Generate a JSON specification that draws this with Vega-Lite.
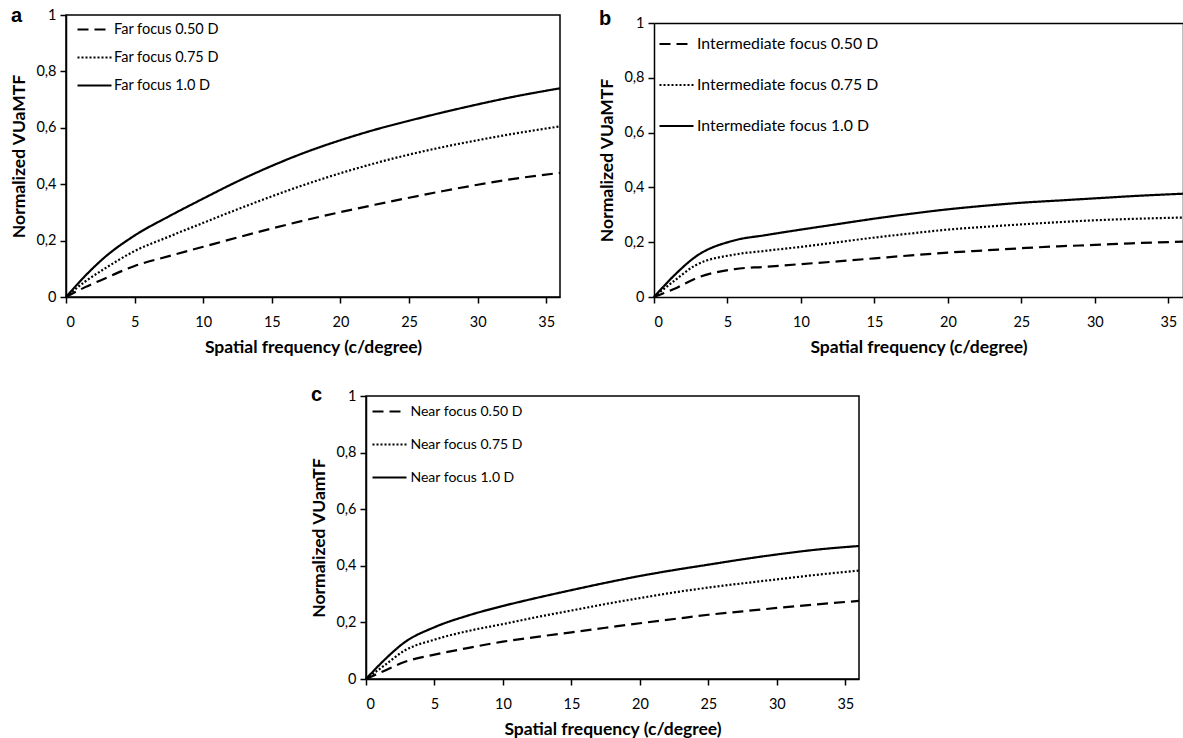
{
  "$schema": "https://vega.github.io/schema/vega-lite/v6.json",
  "padding": {"left": 10, "top": 5, "right": 0, "bottom": 0},
  "autosize": {"type": "pad"},
  "background": "white",
  "config": {
    "view": {"stroke": "black", "strokeWidth": 1.5},
    "axis": {"grid": false, "domainColor": "black", "domainWidth": 1.5, "tickColor": "black", "tickWidth": 1.5, "tickSize": 6, "labelColor": "black", "titleColor": "black", "labelFont": "Lato", "labelFontSize": 14.5, "titleFont": "Lato", "titleFontSize": 17.5, "titleFontWeight": "bold"},
    "axisY": {"labelPadding": 4, "titlePadding": 7},
    "axisX": {"labelPadding": 12, "titlePadding": 10},
    "legend": {"labelFont": "Lato", "labelFontSize": 14.5, "labelColor": "black", "symbolType": "stroke", "symbolSize": 1156, "symbolStrokeWidth": 2.2, "symbolStrokeColor": "black", "labelOffset": 1, "padding": 0, "labelLimit": 400},
    "title": {"font": "Liberation Sans", "fontSize": 20, "fontWeight": "bold", "anchor": "start", "frame": "bounds", "color": "black"},
    "line": {"color": "black", "strokeWidth": 2.2, "interpolate": "monotone"}
  },
  "datasets": {
    "a": [
      {"f": 0, "s": "1.0 D", "v": 0}, {"f": 1.4, "s": "1.0 D", "v": 0.075}, {"f": 2.8, "s": "1.0 D", "v": 0.14}, {"f": 5, "s": "1.0 D", "v": 0.218}, {"f": 7.5, "s": "1.0 D", "v": 0.286}, {"f": 10, "s": "1.0 D", "v": 0.349}, {"f": 12.5, "s": "1.0 D", "v": 0.41}, {"f": 15, "s": "1.0 D", "v": 0.465}, {"f": 17.5, "s": "1.0 D", "v": 0.514}, {"f": 20, "s": "1.0 D", "v": 0.556}, {"f": 22.5, "s": "1.0 D", "v": 0.593}, {"f": 25, "s": "1.0 D", "v": 0.625}, {"f": 27.5, "s": "1.0 D", "v": 0.655}, {"f": 30, "s": "1.0 D", "v": 0.683}, {"f": 32.5, "s": "1.0 D", "v": 0.709}, {"f": 36, "s": "1.0 D", "v": 0.74},
      {"f": 0, "s": "0.75 D", "v": 0}, {"f": 1.4, "s": "0.75 D", "v": 0.055}, {"f": 2.8, "s": "0.75 D", "v": 0.1}, {"f": 5, "s": "0.75 D", "v": 0.163}, {"f": 7.5, "s": "0.75 D", "v": 0.214}, {"f": 10, "s": "0.75 D", "v": 0.263}, {"f": 12.5, "s": "0.75 D", "v": 0.311}, {"f": 15, "s": "0.75 D", "v": 0.357}, {"f": 17.5, "s": "0.75 D", "v": 0.4}, {"f": 20, "s": "0.75 D", "v": 0.439}, {"f": 22.5, "s": "0.75 D", "v": 0.474}, {"f": 25, "s": "0.75 D", "v": 0.505}, {"f": 27.5, "s": "0.75 D", "v": 0.532}, {"f": 30, "s": "0.75 D", "v": 0.556}, {"f": 32.5, "s": "0.75 D", "v": 0.578}, {"f": 36, "s": "0.75 D", "v": 0.605},
      {"f": 0, "s": "0.50 D", "v": 0}, {"f": 1.4, "s": "0.50 D", "v": 0.035}, {"f": 2.8, "s": "0.50 D", "v": 0.065}, {"f": 5, "s": "0.50 D", "v": 0.11}, {"f": 7.5, "s": "0.50 D", "v": 0.145}, {"f": 10, "s": "0.50 D", "v": 0.178}, {"f": 12.5, "s": "0.50 D", "v": 0.211}, {"f": 15, "s": "0.50 D", "v": 0.243}, {"f": 17.5, "s": "0.50 D", "v": 0.273}, {"f": 20, "s": "0.50 D", "v": 0.301}, {"f": 22.5, "s": "0.50 D", "v": 0.327}, {"f": 25, "s": "0.50 D", "v": 0.352}, {"f": 27.5, "s": "0.50 D", "v": 0.376}, {"f": 30, "s": "0.50 D", "v": 0.398}, {"f": 32.5, "s": "0.50 D", "v": 0.418}, {"f": 36, "s": "0.50 D", "v": 0.44}
    ],
    "b": [
      {"f": 0, "s": "1.0 D", "v": 0}, {"f": 1.4, "s": "1.0 D", "v": 0.08}, {"f": 2.8, "s": "1.0 D", "v": 0.146}, {"f": 5.5, "s": "1.0 D", "v": 0.207}, {"f": 7.5, "s": "1.0 D", "v": 0.225}, {"f": 10, "s": "1.0 D", "v": 0.246}, {"f": 12.5, "s": "1.0 D", "v": 0.266}, {"f": 15, "s": "1.0 D", "v": 0.286}, {"f": 17.5, "s": "1.0 D", "v": 0.304}, {"f": 20, "s": "1.0 D", "v": 0.32}, {"f": 22.5, "s": "1.0 D", "v": 0.333}, {"f": 25, "s": "1.0 D", "v": 0.344}, {"f": 27.5, "s": "1.0 D", "v": 0.352}, {"f": 30, "s": "1.0 D", "v": 0.36}, {"f": 32.5, "s": "1.0 D", "v": 0.368}, {"f": 36, "s": "1.0 D", "v": 0.377},
      {"f": 0, "s": "0.75 D", "v": 0}, {"f": 1.4, "s": "0.75 D", "v": 0.06}, {"f": 2.8, "s": "0.75 D", "v": 0.115}, {"f": 5.5, "s": "0.75 D", "v": 0.155}, {"f": 7.5, "s": "0.75 D", "v": 0.168}, {"f": 10, "s": "0.75 D", "v": 0.183}, {"f": 12.5, "s": "0.75 D", "v": 0.2}, {"f": 15, "s": "0.75 D", "v": 0.217}, {"f": 17.5, "s": "0.75 D", "v": 0.232}, {"f": 20, "s": "0.75 D", "v": 0.246}, {"f": 22.5, "s": "0.75 D", "v": 0.256}, {"f": 25, "s": "0.75 D", "v": 0.265}, {"f": 27.5, "s": "0.75 D", "v": 0.273}, {"f": 30, "s": "0.75 D", "v": 0.28}, {"f": 32.5, "s": "0.75 D", "v": 0.285}, {"f": 36, "s": "0.75 D", "v": 0.29},
      {"f": 0, "s": "0.50 D", "v": 0}, {"f": 1.4, "s": "0.50 D", "v": 0.03}, {"f": 2.8, "s": "0.50 D", "v": 0.067}, {"f": 5.5, "s": "0.50 D", "v": 0.102}, {"f": 7.5, "s": "0.50 D", "v": 0.11}, {"f": 10, "s": "0.50 D", "v": 0.12}, {"f": 12.5, "s": "0.50 D", "v": 0.13}, {"f": 15, "s": "0.50 D", "v": 0.141}, {"f": 17.5, "s": "0.50 D", "v": 0.152}, {"f": 20, "s": "0.50 D", "v": 0.162}, {"f": 22.5, "s": "0.50 D", "v": 0.17}, {"f": 25, "s": "0.50 D", "v": 0.178}, {"f": 27.5, "s": "0.50 D", "v": 0.185}, {"f": 30, "s": "0.50 D", "v": 0.19}, {"f": 32.5, "s": "0.50 D", "v": 0.196}, {"f": 36, "s": "0.50 D", "v": 0.202}
    ],
    "c": [
      {"f": 0, "s": "1.0 D", "v": 0}, {"f": 1.4, "s": "1.0 D", "v": 0.07}, {"f": 2.8, "s": "1.0 D", "v": 0.129}, {"f": 5, "s": "1.0 D", "v": 0.183}, {"f": 7.5, "s": "1.0 D", "v": 0.225}, {"f": 10, "s": "1.0 D", "v": 0.258}, {"f": 12.5, "s": "1.0 D", "v": 0.287}, {"f": 15, "s": "1.0 D", "v": 0.314}, {"f": 17.5, "s": "1.0 D", "v": 0.34}, {"f": 20, "s": "1.0 D", "v": 0.364}, {"f": 22.5, "s": "1.0 D", "v": 0.385}, {"f": 25, "s": "1.0 D", "v": 0.404}, {"f": 27.5, "s": "1.0 D", "v": 0.423}, {"f": 30, "s": "1.0 D", "v": 0.44}, {"f": 32.5, "s": "1.0 D", "v": 0.455}, {"f": 36, "s": "1.0 D", "v": 0.47},
      {"f": 0, "s": "0.75 D", "v": 0}, {"f": 1.4, "s": "0.75 D", "v": 0.05}, {"f": 2.8, "s": "0.75 D", "v": 0.1}, {"f": 5, "s": "0.75 D", "v": 0.139}, {"f": 7.5, "s": "0.75 D", "v": 0.17}, {"f": 10, "s": "0.75 D", "v": 0.194}, {"f": 12.5, "s": "0.75 D", "v": 0.219}, {"f": 15, "s": "0.75 D", "v": 0.242}, {"f": 17.5, "s": "0.75 D", "v": 0.265}, {"f": 20, "s": "0.75 D", "v": 0.286}, {"f": 22.5, "s": "0.75 D", "v": 0.306}, {"f": 25, "s": "0.75 D", "v": 0.323}, {"f": 27.5, "s": "0.75 D", "v": 0.338}, {"f": 30, "s": "0.75 D", "v": 0.352}, {"f": 32.5, "s": "0.75 D", "v": 0.366}, {"f": 36, "s": "0.75 D", "v": 0.383},
      {"f": 0, "s": "0.50 D", "v": 0}, {"f": 1.4, "s": "0.50 D", "v": 0.03}, {"f": 2.8, "s": "0.50 D", "v": 0.06}, {"f": 5, "s": "0.50 D", "v": 0.086}, {"f": 7.5, "s": "0.50 D", "v": 0.11}, {"f": 10, "s": "0.50 D", "v": 0.132}, {"f": 12.5, "s": "0.50 D", "v": 0.149}, {"f": 15, "s": "0.50 D", "v": 0.165}, {"f": 17.5, "s": "0.50 D", "v": 0.181}, {"f": 20, "s": "0.50 D", "v": 0.197}, {"f": 22.5, "s": "0.50 D", "v": 0.212}, {"f": 25, "s": "0.50 D", "v": 0.227}, {"f": 27.5, "s": "0.50 D", "v": 0.239}, {"f": 30, "s": "0.50 D", "v": 0.251}, {"f": 32.5, "s": "0.50 D", "v": 0.262}, {"f": 36, "s": "0.50 D", "v": 0.276}
    ],
    "none": []
  },
  "spacing": 27,
  "resolve": {"scale": {"x": "independent", "y": "independent", "strokeDash": "independent"}, "legend": {"strokeDash": "independent"}},
  "vconcat": [
    {
      "spacing": 32,
      "resolve": {"scale": {"x": "independent", "y": "independent", "strokeDash": "independent"}, "legend": {"strokeDash": "independent"}},
      "hconcat": [
        {
          "width": 494, "height": 282,
          "data": {"name": "a"},
          "title": {"text": "a", "offset": -19},
          "mark": {"type": "line"},
          "encoding": {
            "x": {"field": "f", "type": "quantitative", "scale": {"domain": [0, 36], "nice": false}, "axis": {"values": [0, 5, 10, 15, 20, 25, 30, 35], "title": "Spatial frequency (c/degree)"}},
            "y": {"field": "v", "type": "quantitative", "scale": {"domain": [0, 1], "nice": false}, "axis": {"values": [0, 0.2, 0.4, 0.6, 0.8, 1], "title": "Normalized VUaMTF", "labelExpr": "replace(toString(datum.value), '.', ',')"}},
            "strokeDash": {"field": "s", "type": "nominal", "scale": {"domain": ["0.50 D", "0.75 D", "1.0 D"], "range": [[11, 6], [2, 2], [1, 0]]}, "legend": {"title": null, "orient": "none", "legendX": 10, "legendY": -4, "rowPadding": 3, "labelExpr": "'Far focus ' + datum.label"}}
          }
        },
        {
          "width": 529, "height": 282,
          "data": {"name": "b"},
          "title": {"text": "b", "offset": -14},
          "view": {"stroke": null},
          "resolve": {"axis": {"x": "independent", "y": "independent"}},
          "layer": [
            {
              "mark": {"type": "line"},
              "encoding": {
                "x": {"field": "f", "type": "quantitative", "scale": {"domain": [0, 36], "nice": false}, "axis": {"values": [0, 5, 10, 15, 20, 25, 30, 35], "title": "Spatial frequency (c/degree)"}},
                "y": {"field": "v", "type": "quantitative", "scale": {"domain": [0, 1], "nice": false, "range": [282, 8]}, "axis": {"values": [0, 0.2, 0.4, 0.6, 0.8, 1], "title": "Normalized VUaMTF", "labelExpr": "replace(toString(datum.value), '.', ',')"}},
                "strokeDash": {"field": "s", "type": "nominal", "scale": {"domain": ["0.50 D", "0.75 D", "1.0 D"], "range": [[11, 6], [2, 2], [1, 0]]}, "legend": {"title": null, "orient": "none", "legendX": 4, "legendY": 10.5, "rowPadding": 14, "labelFontSize": 15.8, "labelOffset": 2, "labelExpr": "'Intermediate focus ' + datum.label"}}
              }
            },
            {
              "mark": {"type": "line", "strokeOpacity": 0},
              "encoding": {
                "x": {"field": "f", "type": "quantitative", "axis": {"orient": "top", "labels": false, "ticks": false, "title": null, "offset": -8}},
                "y": {"field": "v", "type": "quantitative", "axis": {"orient": "right", "labels": false, "ticks": false, "title": null}}
              }
            }
          ]
        }
      ]
    },
    {
      "spacing": 0,
      "resolve": {"scale": {"x": "independent", "y": "independent", "strokeDash": "independent"}, "legend": {"strokeDash": "independent"}},
      "hconcat": [
        {
          "width": 244, "height": 1,
          "data": {"name": "none"},
          "view": {"stroke": null},
          "mark": {"type": "point", "opacity": 0},
          "encoding": {}
        },
        {
          "width": 493, "height": 283,
          "data": {"name": "c"},
          "title": {"text": "c", "offset": -17},
          "mark": {"type": "line"},
          "encoding": {
            "x": {"field": "f", "type": "quantitative", "scale": {"domain": [0, 36], "nice": false}, "axis": {"values": [0, 5, 10, 15, 20, 25, 30, 35], "title": "Spatial frequency (c/degree)"}},
            "y": {"field": "v", "type": "quantitative", "scale": {"domain": [0, 1], "nice": false}, "axis": {"values": [0, 0.2, 0.4, 0.6, 0.8, 1], "title": "Normalized VUamTF", "labelExpr": "replace(toString(datum.value), '.', ',')"}},
            "strokeDash": {"field": "s", "type": "nominal", "scale": {"domain": ["0.50 D", "0.75 D", "1.0 D"], "range": [[11, 6], [2, 2], [1, 0]]}, "legend": {"title": null, "orient": "none", "legendX": 5, "legendY": -3, "rowPadding": 7, "labelFontSize": 14, "labelOffset": 2.5, "labelExpr": "'Near focus ' + datum.label"}}
          }
        }
      ]
    }
  ]
}
